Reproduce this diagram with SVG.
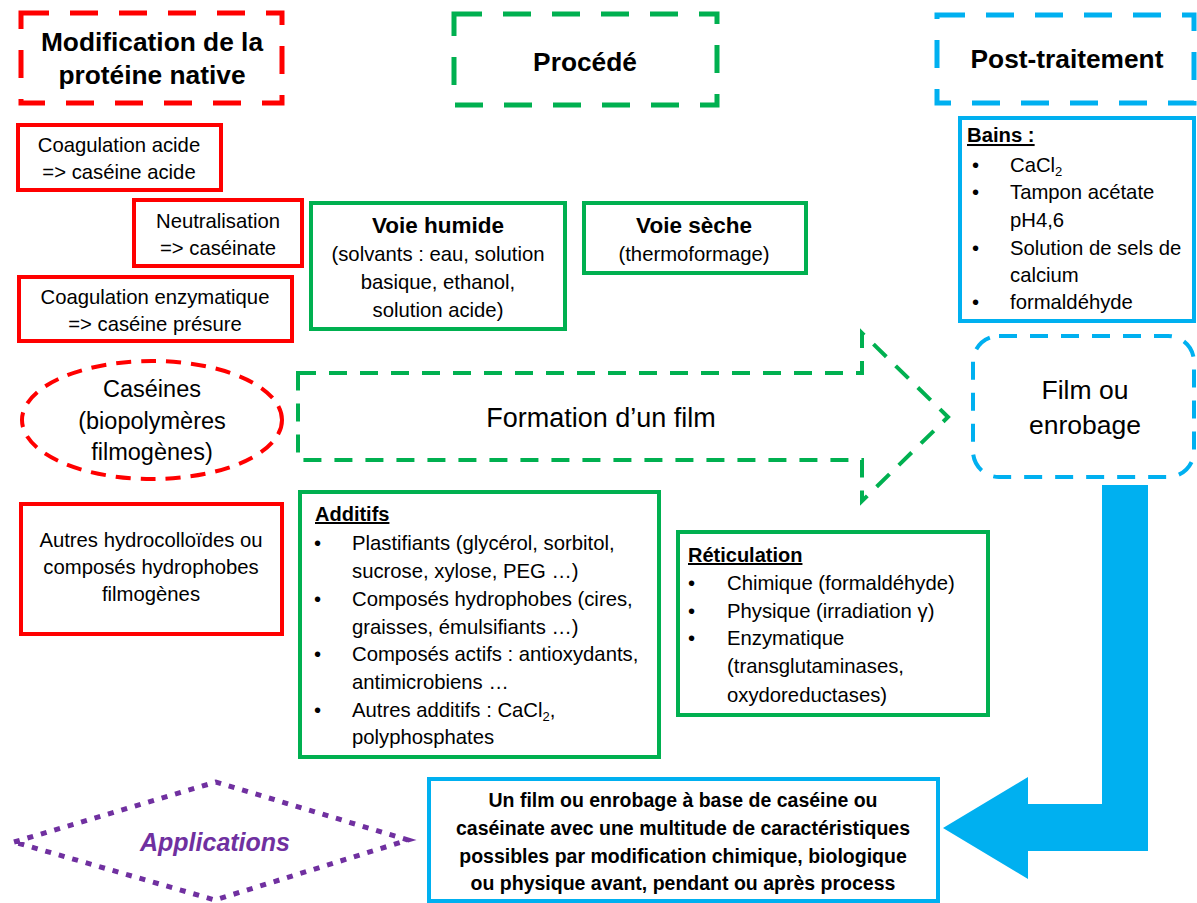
<svg xmlns="http://www.w3.org/2000/svg" width="1197" height="903" viewBox="0 0 1197 903">
<style>
text{font-family:"Liberation Sans",Arial,sans-serif;fill:#000}
.h{font-weight:bold;font-size:26.3px;text-anchor:middle}
.t{font-size:20.3px}
.c{text-anchor:middle}
.b{font-weight:bold}
.u{text-decoration:underline}
.red{fill:none;stroke:#FF0000;stroke-width:4}
.grn{fill:none;stroke:#00B050;stroke-width:4}
.blu{fill:none;stroke:#00B0F0;stroke-width:4}
.hd{stroke-width:5;stroke-dasharray:28 21}
</style>
<rect width="1197" height="903" fill="#fff"/>

<g id="hdr-modif">
<rect class="red hd" x="21" y="13" width="261" height="90"/>
<text class="h" x="152" y="51">Modification de la</text>
<text class="h" x="152" y="84">protéine native</text>
</g>
<g id="hdr-procede">
<rect class="grn hd" x="454" y="14" width="263" height="91"/>
<text class="h" x="585" y="71">Procédé</text>
</g>
<g id="hdr-post">
<rect class="blu hd" x="937" y="15" width="257" height="88"/>
<text class="h" x="1067" y="68">Post-traitement</text>
</g>

<g id="bains">
<rect class="blu" x="960" y="118" width="234" height="203"/>
<text class="t b u" x="967" y="142" font-size="20">Bains :</text>
<text class="t" x="972" y="172">•</text><text class="t" x="1010" y="172">CaCl<tspan font-size="13" dy="4">2</tspan></text>
<text class="t" x="972" y="199">•</text><text class="t" x="1010" y="199">Tampon acétate</text>
<text class="t" x="1010" y="227">pH4,6</text>
<text class="t" x="972" y="255">•</text><text class="t" x="1010" y="255">Solution de sels de</text>
<text class="t" x="1010" y="282">calcium</text>
<text class="t" x="972" y="309">•</text><text class="t" x="1010" y="309">formaldéhyde</text>
</g>

<g id="coag-acide">
<rect class="red" x="18" y="125" width="203" height="65"/>
<text class="t c" x="119" y="152">Coagulation acide</text>
<text class="t c" x="119" y="179">=&gt; caséine acide</text>
</g>
<g id="neutralisation">
<rect class="red" x="134" y="200" width="168" height="66"/>
<text class="t c" x="218" y="228">Neutralisation</text>
<text class="t c" x="218" y="255">=&gt; caséinate</text>
</g>
<g id="coag-enz">
<rect class="red" x="19" y="277" width="273" height="64"/>
<text class="t c" x="155" y="304">Coagulation enzymatique</text>
<text class="t c" x="155" y="331">=&gt; caséine présure</text>
</g>

<g id="voie-humide">
<rect class="grn" x="311" y="203" width="254" height="126"/>
<text class="c b" x="438" y="233" font-size="22.5">Voie humide</text>
<text class="t c" x="438" y="261">(solvants : eau, solution</text>
<text class="t c" x="438" y="289">basique, ethanol,</text>
<text class="t c" x="438" y="317">solution acide)</text>
</g>
<g id="voie-seche">
<rect class="grn" x="584" y="203" width="222" height="70"/>
<text class="c b" x="694" y="233" font-size="22.5">Voie sèche</text>
<text class="t c" x="694" y="261">(thermoformage)</text>
</g>

<g id="caseines">
<ellipse cx="152" cy="420" rx="130" ry="59" fill="none" stroke="#FF0000" stroke-width="4" stroke-dasharray="15 10"/>
<text class="c" x="152" y="397" font-size="23.5">Caséines</text>
<text class="c" x="152" y="429" font-size="23.5">(biopolymères</text>
<text class="c" x="152" y="460" font-size="23.5">filmogènes)</text>
</g>

<g id="formation">
<path d="M298,373 L862,373 L862,333 L948,417 L862,501 L862,460 L298,460 Z" fill="none" stroke="#00B050" stroke-width="4" stroke-dasharray="18 13"/>
<text class="c" x="601" y="427" font-size="27">Formation d’un film</text>
</g>

<g id="film">
<rect x="973" y="336" width="221" height="141" rx="26" fill="none" stroke="#00B0F0" stroke-width="4" stroke-dasharray="18 13"/>
<text class="c" x="1085" y="399" font-size="26.5">Film ou</text>
<text class="c" x="1085" y="434" font-size="26.5">enrobage</text>
</g>

<g id="autres">
<rect class="red" x="21" y="504" width="261" height="130"/>
<text class="t c" x="151" y="547">Autres hydrocolloïdes ou</text>
<text class="t c" x="151" y="574">composés hydrophobes</text>
<text class="t c" x="151" y="601">filmogènes</text>
</g>

<g id="additifs">
<rect class="grn" x="300" y="492" width="359" height="265"/>
<text class="b u" x="315" y="521" font-size="20">Additifs</text>
<text class="t" x="314" y="550">•</text><text class="t" x="352" y="550">Plastifiants (glycérol, sorbitol,</text>
<text class="t" x="352" y="578">sucrose, xylose, PEG …)</text>
<text class="t" x="314" y="606">•</text><text class="t" x="352" y="606">Composés hydrophobes (cires,</text>
<text class="t" x="352" y="634">graisses, émulsifiants …)</text>
<text class="t" x="314" y="661">•</text><text class="t" x="352" y="661">Composés actifs : antioxydants,</text>
<text class="t" x="352" y="689">antimicrobiens …</text>
<text class="t" x="314" y="717">•</text><text class="t" x="352" y="717">Autres additifs : CaCl<tspan font-size="13" dy="4">2</tspan><tspan dy="-4">,</tspan></text>
<text class="t" x="352" y="744">polyphosphates</text>
</g>

<g id="reticulation">
<rect class="grn" x="678" y="532" width="310" height="183"/>
<text class="b u" x="688" y="562" font-size="20">Réticulation</text>
<text class="t" x="688" y="590">•</text><text class="t" x="727" y="590">Chimique (formaldéhyde)</text>
<text class="t" x="688" y="618">•</text><text class="t" x="727" y="618">Physique (irradiation γ)</text>
<text class="t" x="688" y="645">•</text><text class="t" x="727" y="645">Enzymatique</text>
<text class="t" x="727" y="673">(transglutaminases,</text>
<text class="t" x="727" y="702">oxydoreductases)</text>
</g>

<g id="resultat">
<rect class="blu" x="429" y="779" width="509" height="122"/>
<text class="c b" x="683" y="807" font-size="19.5">Un film ou enrobage à base de caséine ou</text>
<text class="c b" x="683" y="835" font-size="19.5">caséinate avec une multitude de caractéristiques</text>
<text class="c b" x="683" y="863" font-size="19.5">possibles par modification chimique, biologique</text>
<text class="c b" x="683" y="890" font-size="19.5">ou physique avant, pendant ou après process</text>
</g>

<g id="applications">
<path d="M14,842 L216,782 L408,840 L215,900 Z" fill="none" stroke="#7030A0" stroke-width="5" stroke-dasharray="6 8"/>
<text class="c b" x="215" y="851" font-size="25" font-style="italic" style="fill:#7030A0">Applications</text>
</g>

<g id="connectors">
<path d="M1102,485 L1148,485 L1148,851 L1028,851 L1028,879 L943,828 L1028,777 L1028,804 L1102,804 Z" fill="#00B0F0"/>
</g>
</svg>
